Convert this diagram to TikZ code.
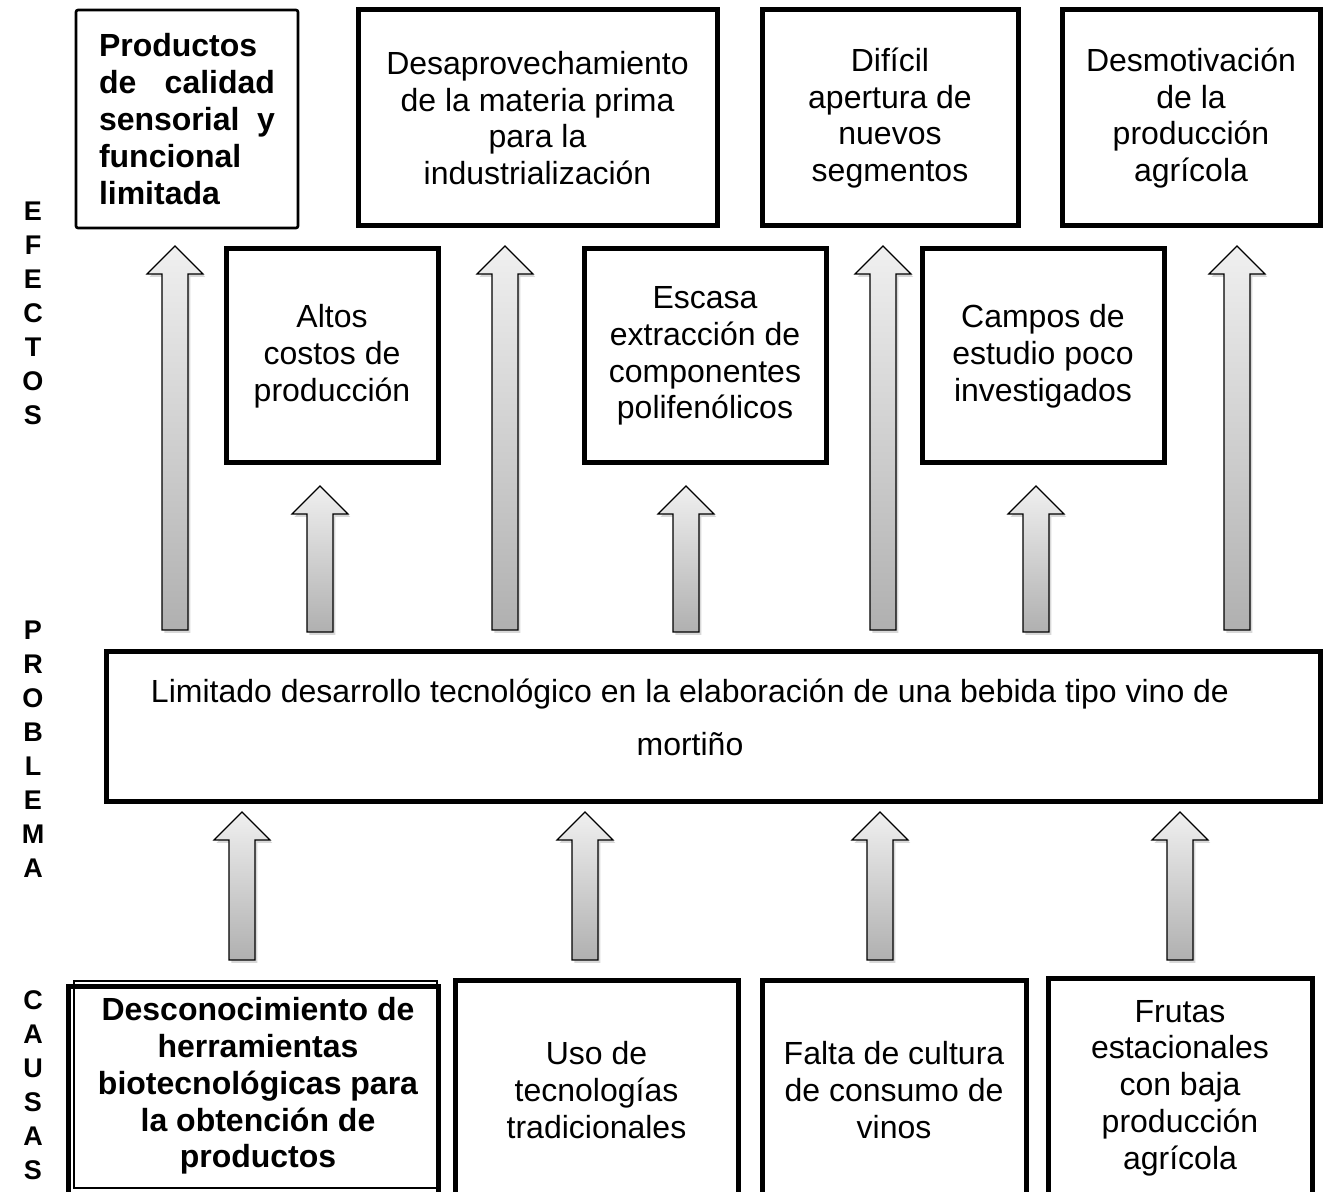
\documentclass[tikz,border=0pt]{standalone}
\usepackage{fontspec}
\setmainfont{Liberation Sans}
\usetikzlibrary{shadows}
\tikzset{
  box/.style={draw, line width=2.5pt, align=center, inner sep=0pt,
    font=\fontsize{16}{18.4}\selectfont},
  thinbox/.style={draw, line width=1.3pt, rounded corners=1pt, inner sep=0pt},
  blockarrow/.style={draw=black, line width=0.6pt, top color=gray!12, bottom color=gray!62,
    drop shadow={shadow xshift=1.2pt, shadow yshift=-1.5pt, opacity=0.3, fill=gray}},
  sidelabel/.style={font=\fontsize{13.5}{17}\selectfont\bfseries, align=center, inner sep=0pt}
}
\newcommand\upblock[3]{%
  \path[blockarrow] (#1-13,#3) -- (#1-13,#2+28) -- (#1-28,#2+28) -- (#1,#2)
    -- (#1+28,#2+28) -- (#1+13,#2+28) -- (#1+13,#3) -- cycle;}
\begin{document}
\begin{tikzpicture}[x=0.5pt,y=-0.5pt]
\useasboundingbox[fill=white] (0,0) rectangle (1330,1192);

% side labels
\node[sidelabel] (efectos) at (33,313) {E\\F\\E\\C\\T\\O\\S};
\node[sidelabel] (problema) at (33,749) {P\\R\\O\\B\\L\\E\\M\\A};
\node[sidelabel] (causas) at (33,1085) {C\\A\\U\\S\\A\\S};

% arrows (drawn first)
\upblock{175}{246}{630}
\upblock{505}{246}{630}
\upblock{883}{246}{630}
\upblock{1237}{246}{630}
\upblock{320}{486}{632}
\upblock{686}{486}{632}
\upblock{1036}{486}{632}
\upblock{242}{812}{960}
\upblock{585}{812}{960}
\upblock{880}{812}{960}
\upblock{1180}{812}{960}

% top row
\node[thinbox, minimum width=111pt, minimum height=109pt, text width=88pt, align=left,
  font=\fontsize{16}{18.4}\selectfont\bfseries] (b1) at (187,119)
  {Productos\\de\hfill calidad\\sensorial\hfill y\\funcional\\limitada};
\node[box, minimum width=179.5pt, minimum height=108pt] (b2) at (537.5,118)
  {Desaprovechamiento\\de la materia prima\\para la\\industrialización};
\node[box, minimum width=128pt, minimum height=108pt] (b3) at (890,118)
  {Difícil\\apertura de\\nuevos\\segmentos};
\node[box, minimum width=129pt, minimum height=108pt] (b4) at (1191,118)
  {Desmotivación\\de la\\producción\\agrícola};

% second row
\node[box, minimum width=106pt, minimum height=107pt] (c1) at (332,356)
  {Altos\\costos de\\producción};
\node[box, minimum width=121pt, minimum height=107pt] (c2) at (705,356)
  {Escasa\\extracción de\\componentes\\polifenólicos};
\node[box, minimum width=121pt, minimum height=107pt] (c3) at (1043,356)
  {Campos de\\estudio poco\\investigados};

% problem
\node[box, minimum width=607pt, minimum height=75pt] (prob) at (713,727) {};
\node[align=center, inner sep=0pt, font=\fontsize{16}{26.5}\selectfont] (probtext) at (690,717)
  {Limitado desarrollo tecnológico en la elaboración de una bebida tipo vino de\\mortiño};

% bottom row
\draw[line width=0.8pt] (74,981) rectangle (437,1188);
\node[box, minimum width=185pt, minimum height=107pt] (d1) at (253,1093) {};
\node[align=center, inner sep=0pt, font=\fontsize{16}{18.4}\selectfont\bfseries] (d1text) at (258,1086)
  {Desconocimiento de\\herramientas\\biotecnológicas para\\la obtención de\\productos};
\node[box, minimum width=141.5pt, minimum height=108pt] (d2) at (596.5,1088) {};
\node[align=center, inner sep=0pt, font=\fontsize{16}{18.4}\selectfont] (d2text) at (596.5,1090)
  {Uso de\\tecnologías\\tradicionales};
\node[box, minimum width=132pt, minimum height=108pt] (d3) at (894,1088) {};
\node[align=center, inner sep=0pt, font=\fontsize{16}{18.4}\selectfont] (d3text) at (894,1090)
  {Falta de cultura\\de consumo de\\vinos};
\node[box, minimum width=132pt, minimum height=110pt] (d4) at (1180,1088) {};
\node[align=center, inner sep=0pt, font=\fontsize{16}{18.4}\selectfont] (d4text) at (1180,1088)
  {Frutas\\estacionales\\con baja\\producción\\agrícola};
\end{tikzpicture}
\end{document}
